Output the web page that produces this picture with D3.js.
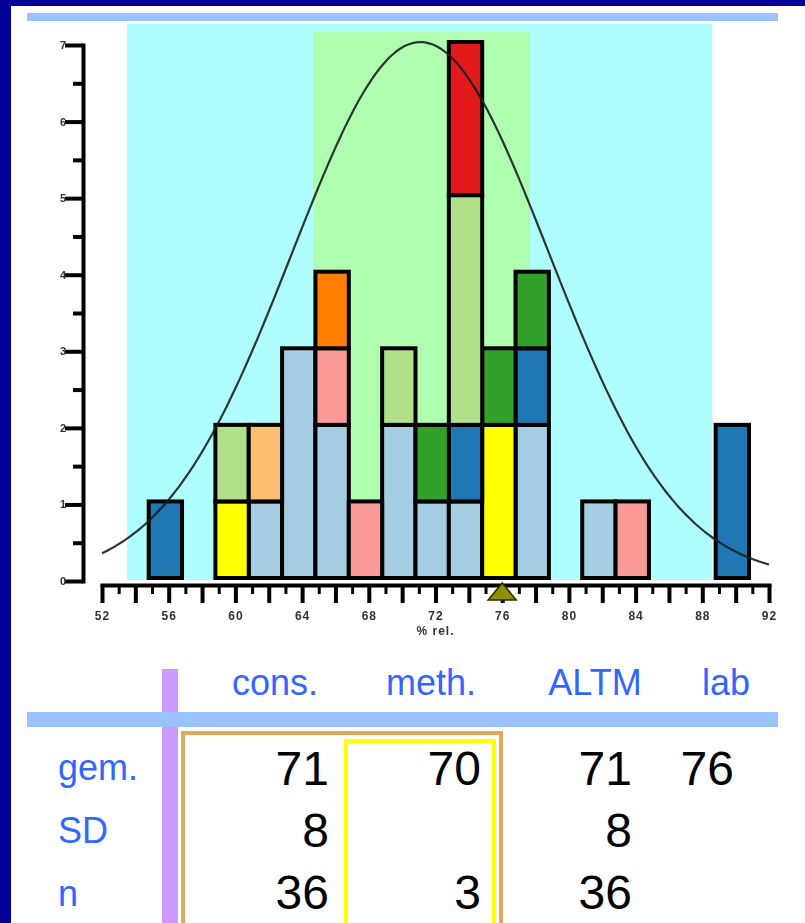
<!DOCTYPE html>
<html>
<head>
<meta charset="utf-8">
<script src="https://cdn.jsdelivr.net/npm/d3@7"></script>
<style>
  html, body { margin: 0; padding: 0; background: #fff; }
  svg { display: block; }
  text { font-family: "Liberation Sans", Arial, sans-serif; }
</style>
</head>
<body>
<svg id="chart" width="805" height="923"></svg>
<script>
// ---- data -------------------------------------------------------------
// class centres (% rel.), each class is 2 units wide
const binCenters = [55.8, 59.8, 61.8, 63.8, 65.8, 67.8, 69.8, 71.8, 73.8, 75.8, 77.8, 81.8, 83.8, 89.8];
const binWidth = 2;

// number of results per method group in every class (stacked bottom to top)
const groupKeys      = ["g1", "g2", "g3", "g4", "g5", "g6", "g7", "g8", "g9"];
const countsG1 = [0, 0, 1, 3, 2, 0, 2, 1, 1, 0, 2, 1, 0, 0];
const countsG2 = [0, 1, 0, 0, 0, 0, 0, 0, 0, 2, 0, 0, 0, 0];
const countsG3 = [0, 0, 0, 0, 1, 1, 0, 0, 0, 0, 0, 0, 1, 0];
const countsG4 = [1, 0, 0, 0, 0, 0, 0, 0, 1, 0, 1, 0, 0, 2];
const countsG5 = [0, 0, 0, 0, 0, 0, 0, 1, 0, 1, 1, 0, 0, 0];
const countsG6 = [0, 1, 0, 0, 0, 0, 1, 0, 3, 0, 0, 0, 0, 0];
const countsG7 = [0, 0, 0, 0, 1, 0, 0, 0, 0, 0, 0, 0, 0, 0];
const countsG8 = [0, 0, 1, 0, 0, 0, 0, 0, 0, 0, 0, 0, 0, 0];
const countsG9 = [0, 0, 0, 0, 0, 0, 0, 0, 2, 0, 0, 0, 0, 0];

// consensus statistics used for the fitted curve
const consMean = 71.1;
const consSD = 7.7;

// acceptance ranges (% rel.) and the height they reach on the count axis
const outerRange = [53.5, 88.6];
const outerTop = 7.24;
const innerRange = [64.65, 77.67];
const innerTop = 7.13;

// axis ticks
const yTicks = [0, 1, 2, 3, 4, 5, 6, 7];
const yMinorTicks = [0.5, 1.5, 2.5, 3.5, 4.5, 5.5, 6.5];
const xMajorTicks = [52, 54, 56, 58, 60, 62, 64, 66, 68, 70, 72, 74, 76, 78, 80, 82, 84, 86, 88, 90, 92];
const xMinorTicks = [53, 55, 57, 59, 61, 63, 65, 67, 69, 71, 73, 75, 77, 79, 81, 83, 85, 87, 89, 91];
const xLabelTicks = [52, 56, 60, 64, 68, 72, 76, 80, 84, 88, 92];
const xTitle = "% rel.";

// summary table
const tableColumns = ["cons.", "meth.", "ALTM", "lab"];
const tableRows = ["gem.", "SD", "n"];
const colCons = [consMean, consSD, 36];
const colMeth = [70, null, 3];
const colAltm = [71, 8, 36];
const colLab  = [76, null, null];
const labValue = colLab[0];

// ---- styling ------------------------------------------------------------
const groupColors = {
  g1: "#a6cee3", g2: "#ffff00", g3: "#fb9a99", g4: "#1f78b4", g5: "#33a02c",
  g6: "#b2df8a", g7: "#ff7f00", g8: "#fdbf6f", g9: "#e31a1c"
};
const frameBlue = "#000099";
const paleBlue = "#99c2ff";
const headBlue = "#3366ff";

// ---- drawing ------------------------------------------------------------
const svg = d3.select("#chart");
const defs = svg.append("defs");
defs.append("filter").attr("id", "soft")
  .attr("x", "-20%").attr("y", "-20%").attr("width", "140%").attr("height", "140%")
  .append("feGaussianBlur").attr("stdDeviation", 0.5);

svg.append("rect").attr("width", 805).attr("height", 923).attr("fill", "#fff");
// page frame
svg.append("rect").attr("x", 0).attr("y", 0).attr("width", 805).attr("height", 6).attr("fill", frameBlue);
svg.append("rect").attr("x", 0).attr("y", 0).attr("width", 11).attr("height", 923).attr("fill", frameBlue);
svg.append("rect").attr("x", 27).attr("y", 13).attr("width", 751).attr("height", 8).attr("fill", paleBlue);

const x = d3.scaleLinear().domain([52, 92]).range([102, 769]);
const y = d3.scaleLinear().domain([0, 7]).range([578, 42]);

// acceptance ranges
svg.append("rect")
  .attr("x", x(outerRange[0])).attr("y", y(outerTop))
  .attr("width", x(outerRange[1]) - x(outerRange[0]))
  .attr("height", y(0) + 2 - y(outerTop))
  .attr("fill", "#b0ffff");
svg.append("rect")
  .attr("x", x(innerRange[0])).attr("y", y(innerTop))
  .attr("width", x(innerRange[1]) - x(innerRange[0]))
  .attr("height", y(0) + 2 - y(innerTop))
  .attr("fill", "#b0ffb0");

// stacked histogram
const groupCounts = [countsG1, countsG2, countsG3, countsG4, countsG5, countsG6, countsG7, countsG8, countsG9];
const binTable = binCenters.map((c, i) => {
  const row = { center: c };
  groupKeys.forEach((k, j) => { row[k] = groupCounts[j][i]; });
  return row;
});
const stacked = d3.stack().keys(groupKeys)(binTable);

const segs = [];
stacked.forEach(layer => {
  layer.forEach(d => {
    if (d[1] > d[0]) segs.push({ key: layer.key, lo: d[0], hi: d[1], center: d.data.center });
  });
});
svg.append("g").selectAll("rect").data(segs).join("rect")
  .attr("x", d => x(d.center - binWidth / 2))
  .attr("width", d => x(d.center + binWidth / 2) - x(d.center - binWidth / 2))
  .attr("y", d => y(d.hi))
  .attr("height", d => y(d.lo) - y(d.hi))
  .attr("fill", d => groupColors[d.key])
  .attr("stroke", "#000")
  .attr("stroke-width", 4);

// fitted normal curve scaled to the tallest class
const peak = d3.max(binTable, r => d3.sum(groupKeys, k => r[k]));
const curveX = d3.range(52, 92.0001, 0.25);
const line = d3.line()
  .x(v => x(v))
  .y(v => y(peak * Math.exp(-Math.pow(v - consMean, 2) / (2 * consSD * consSD))))
  .curve(d3.curveBasis);
svg.append("path").datum(curveX)
  .attr("d", line)
  .attr("fill", "none")
  .attr("stroke", "#1a2020")
  .attr("stroke-width", 2.2)
  .attr("stroke-opacity", 0.9);

// y axis
const gy = svg.append("g").attr("transform", "translate(83,3)")
  .call(d3.axisLeft(y).tickValues(yTicks).tickSize(18).tickSizeOuter(0).tickPadding(-1).tickFormat(d3.format("d")));
gy.select(".domain").attr("stroke", "#000").attr("stroke-width", 4).attr("stroke-linecap", "square");
gy.selectAll(".tick line").attr("stroke", "#000").attr("stroke-width", 4);
gy.selectAll(".tick text").attr("font-size", 11).attr("font-weight", "bold").attr("fill", "#333")
  .attr("filter", "url(#soft)")
  .style("font-family", "'Liberation Sans', Arial, sans-serif");
const gyMinor = svg.append("g").attr("transform", "translate(83,3)")
  .call(d3.axisLeft(y).tickValues(yMinorTicks).tickSize(10).tickSizeOuter(0).tickFormat(""));
gyMinor.select(".domain").remove();
gyMinor.selectAll(".tick line").attr("stroke", "#000").attr("stroke-width", 4);

// x axis
const axisY = y(0) + 7;
const gx = svg.append("g").attr("transform", `translate(0,${axisY})`)
  .call(d3.axisBottom(x).tickValues(xMajorTicks).tickSize(18).tickSizeOuter(0).tickPadding(8)
    .tickFormat(d => xLabelTicks.includes(d) ? d3.format("d")(d) : ""));
gx.select(".domain").attr("stroke", "#000").attr("stroke-width", 4).attr("stroke-linecap", "square");
gx.selectAll(".tick line").attr("stroke", "#000").attr("stroke-width", 4);
gx.selectAll(".tick text").attr("font-size", 12).attr("font-weight", "bold").attr("fill", "#333")
  .attr("filter", "url(#soft)")
  .style("font-family", "'Liberation Sans', Arial, sans-serif").attr("letter-spacing", 1);
const gxMinor = svg.append("g").attr("transform", `translate(0,${axisY})`)
  .call(d3.axisBottom(x).tickValues(xMinorTicks).tickSize(9).tickSizeOuter(0).tickFormat(""));
gxMinor.select(".domain").remove();
gxMinor.selectAll(".tick line").attr("stroke", "#000").attr("stroke-width", 3);

svg.append("text")
  .attr("x", (x(52) + x(92)) / 2).attr("y", axisY + 50)
  .attr("text-anchor", "middle").attr("font-size", 12).attr("font-weight", "bold").attr("fill", "#333")
  .attr("letter-spacing", 1).attr("filter", "url(#soft)")
  .text(xTitle);

// laboratory result marker
const lx = x(labValue);
svg.append("path")
  .attr("d", `M${lx},${axisY - 2}L${lx + 14},${axisY + 15}L${lx - 14},${axisY + 15}Z`)
  .attr("fill", "#8f8f00").attr("stroke", "#2b2b00").attr("stroke-width", 1.5);

// ---- summary table ------------------------------------------------------
svg.append("rect").attr("x", 162).attr("y", 669).attr("width", 16).attr("height", 254).attr("fill", "#cc99ff");
svg.append("rect").attr("x", 27).attr("y", 712).attr("width", 751).attr("height", 15).attr("fill", paleBlue);
svg.append("rect").attr("x", 183).attr("y", 733).attr("width", 318).attr("height", 300)
  .attr("fill", "none").attr("stroke", "#dfa95f").attr("stroke-width", 4);
svg.append("rect").attr("x", 346).attr("y", 741).attr("width", 148).attr("height", 300)
  .attr("fill", "none").attr("stroke", "#ffff00").attr("stroke-width", 4);

const headCenters = [275, 431, 595, 726];
svg.append("g").selectAll("text").data(tableColumns).join("text")
  .attr("x", (d, i) => headCenters[i]).attr("y", 695)
  .attr("text-anchor", "middle").attr("font-size", 36).attr("fill", headBlue)
  .text(d => d);

const rowBaselines = [780, 843, 906];
svg.append("g").selectAll("text").data(tableRows).join("text")
  .attr("x", 58).attr("y", (d, i) => rowBaselines[i])
  .attr("font-size", 36).attr("fill", headBlue)
  .text(d => d);

const valueBaselines = [785, 847, 909];
const colRight = [329, 481, 632, 734];
const fmt = d3.format(".0f");
[colCons, colMeth, colAltm, colLab].forEach((col, ci) => {
  svg.append("g").selectAll("text").data(col.map((v, ri) => ({ v, ri })).filter(d => d.v !== null)).join("text")
    .attr("x", colRight[ci]).attr("y", d => valueBaselines[d.ri])
    .attr("text-anchor", "end").attr("font-size", 48).attr("fill", "#000")
    .text(d => fmt(d.v));
});
</script>
</body>
</html>
